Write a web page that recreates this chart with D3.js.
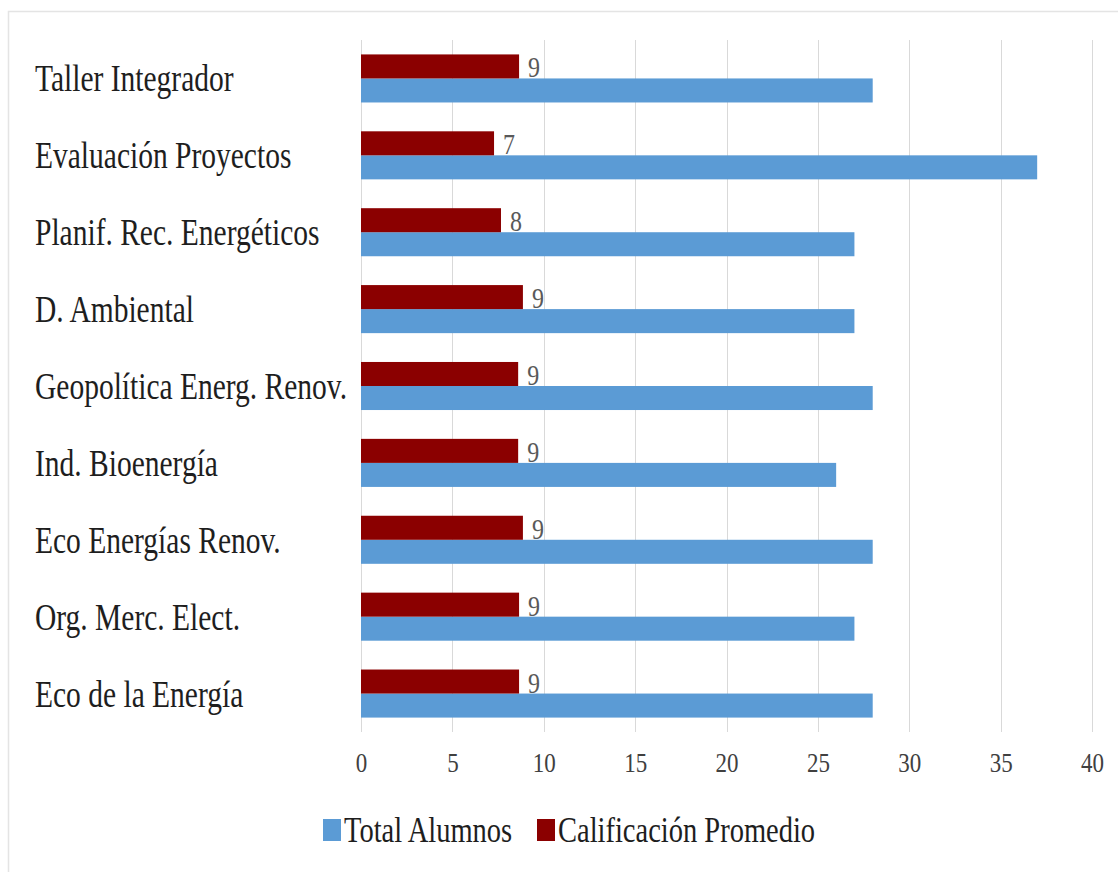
<!DOCTYPE html>
<html>
<head>
<meta charset="utf-8">
<script src="https://cdn.jsdelivr.net/npm/d3@7"></script>
<style>
  html, body { margin: 0; padding: 0; background: #fff; }
  svg { display: block; }
  svg text { font-family: "Liberation Serif", "Times New Roman", "DejaVu Serif", serif; }
</style>
</head>
<body>
<svg id="chart" width="1118" height="872"></svg>
<script>
// Courses, listed top to bottom
const categories = [
  "Taller Integrador",
  "Evaluación Proyectos",
  "Planif. Rec. Energéticos",
  "D. Ambiental",
  "Geopolítica Energ. Renov.",
  "Ind. Bioenergía",
  "Eco Energías Renov.",
  "Org. Merc. Elect.",
  "Eco de la Energía"
];
// Number of students per course
const totalAlumnos = [28, 37, 27, 27, 28, 26, 28, 27, 28];
// Average grade per course
const calificacionPromedio = [8.65, 7.28, 7.66, 8.86, 8.6, 8.6, 8.86, 8.65, 8.65];
const xTicks = [0, 5, 10, 15, 20, 25, 30, 35, 40];
const seriesNames = ["Total Alumnos", "Calificación Promedio"];

const colorTotal = "#5b9bd5";
const colorCalif = "#8b0000";
// glyphs are drawn taller than wide
const stretch = 1.28;

const svg = d3.select("#chart");

// light frame around the chart area
svg.append("rect")
  .attr("x", 8.5).attr("y", 11.5)
  .attr("width", 1130).attr("height", 880)
  .attr("fill", "none").attr("stroke", "#e4e4e4").attr("stroke-width", 1.5);

const plot = { left: 361, right: 1092, top: 40, bottom: 732 };

const x = d3.scaleLinear().domain([0, 40]).range([plot.left, plot.right]);
const y = d3.scaleBand().domain(categories).range([plot.top, plot.bottom]).paddingInner(0.375).paddingOuter(0.1875);
const sub = d3.scaleBand().domain(["calif", "total"]).range([0, y.bandwidth()]);

// vertical gridlines
svg.append("g").selectAll("line")
  .data(xTicks)
  .join("line")
  .attr("x1", d => Math.round(x(d)) + 0.5).attr("x2", d => Math.round(x(d)) + 0.5)
  .attr("y1", plot.top).attr("y2", plot.bottom)
  .attr("stroke", "#d9d9d9").attr("stroke-width", 1);

// x axis tick labels
const xAxis = d3.axisBottom(x).tickValues(xTicks).tickSize(0).tickPadding(0);
const gx = svg.append("g").attr("transform", `translate(0, 772)`).call(xAxis);
gx.select(".domain").remove();
gx.selectAll("text")
  .attr("y", 0).attr("dy", 0)
  .attr("transform", "scale(1, 1.2)")
  .attr("font-size", 23).attr("fill", "#404040");

// category labels
const yAxis = d3.axisLeft(y).tickSize(0).tickPadding(0);
const gy = svg.append("g").attr("transform", `translate(35, 0)`).call(yAxis);
gy.select(".domain").remove();
gy.selectAll("text")
  .attr("x", 0).attr("dy", 0)
  .attr("text-anchor", "start")
  .attr("transform", `translate(0, 13) scale(1, ${stretch})`)
  .attr("font-size", 29.5).attr("fill", "#1e1e1e");

const rows = categories.map((c, i) => ({ c, total: totalAlumnos[i], calif: calificacionPromedio[i] }));

// Total Alumnos bars
svg.append("g").selectAll("rect")
  .data(rows)
  .join("rect")
  .attr("x", x(0))
  .attr("y", d => y(d.c) + sub("total"))
  .attr("width", d => x(d.total) - x(0))
  .attr("height", sub.bandwidth())
  .attr("fill", colorTotal);

// Calificación Promedio bars
svg.append("g").selectAll("rect")
  .data(rows)
  .join("rect")
  .attr("x", x(0))
  .attr("y", d => y(d.c) + sub("calif"))
  .attr("width", d => x(d.calif) - x(0))
  .attr("height", sub.bandwidth())
  .attr("fill", colorCalif);

// rounded grade labels
svg.append("g").selectAll("text")
  .data(rows)
  .join("text")
  .attr("transform", d => `translate(${x(d.calif) + 9}, ${y(d.c) + sub("calif") + sub.bandwidth() - 1}) scale(1, 1.2)`)
  .attr("font-size", 24).attr("fill", "#595959")
  .text(d => d3.format(".0f")(d.calif));

// legend
const legendItems = [
  { name: seriesNames[0], color: colorTotal, x: 323 },
  { name: seriesNames[1], color: colorCalif, x: 537 }
];
const li = svg.append("g").selectAll("g").data(legendItems).join("g")
  .attr("transform", d => `translate(${d.x}, 842)`);
li.append("rect").attr("x", 0).attr("y", -23).attr("width", 18).attr("height", 22).attr("fill", d => d.color);
li.append("text")
  .attr("transform", `translate(21, 0) scale(1, ${stretch})`)
  .attr("font-size", 28.5).attr("fill", "#1e1e1e")
  .text(d => d.name);
</script>
</body>
</html>
